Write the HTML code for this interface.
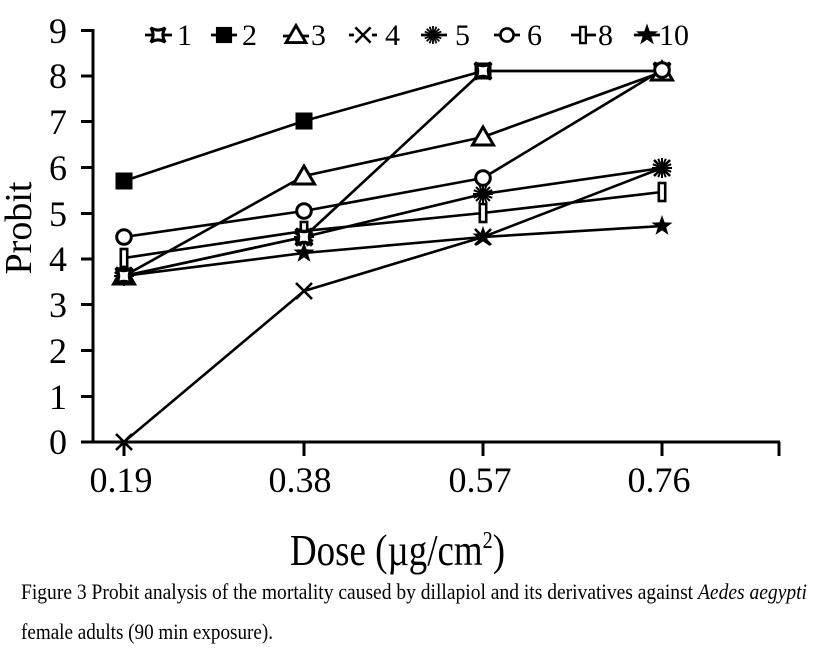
<!DOCTYPE html>
<html>
<head>
<meta charset="utf-8">
<style>
  html,body{margin:0;padding:0;background:#fff;}
  svg{display:block;}
  text{font-family:"Liberation Serif","Times New Roman",serif;fill:#000;}
</style>
</head>
<body>
<svg width="814" height="650" viewBox="0 0 814 650" xmlns="http://www.w3.org/2000/svg">
  <defs>
    <path id="m1" d="M-8,-8 Q0,-3 8,-8 Q3,0 8,8 Q0,3 -8,8 Q-3,0 -8,-8 Z" fill="#fff" stroke="#000" stroke-width="3.4" stroke-linejoin="miter"/>
    <rect id="m2" x="-8.5" y="-8.5" width="17" height="17" fill="#000"/>
    <path id="m3" d="M0,-10 L10.5,8 L-10.5,8 Z" fill="#fff" stroke="#000" stroke-width="3" stroke-linejoin="miter"/>
    <g id="m4" stroke="#000" stroke-width="2.6" fill="none">
      <line x1="-8" y1="-8" x2="8" y2="8"/>
      <line x1="-8" y1="8" x2="8" y2="-8"/>
    </g>
    <g id="m5" stroke="#000" stroke-width="2" fill="none">
      <line x1="-10" y1="0" x2="10" y2="0"/>
      <line x1="0" y1="-10" x2="0" y2="10"/>
      <line x1="-7" y1="-7" x2="7" y2="7"/>
      <line x1="-7" y1="7" x2="7" y2="-7"/>
      <line x1="-9.2" y1="-3.8" x2="9.2" y2="3.8"/>
      <line x1="-9.2" y1="3.8" x2="9.2" y2="-3.8"/>
      <line x1="-3.8" y1="-9.2" x2="3.8" y2="9.2"/>
      <line x1="-3.8" y1="9.2" x2="3.8" y2="-9.2"/>
    </g>
    <circle id="m6" cx="0" cy="0" r="7.3" fill="#fff" stroke="#000" stroke-width="3"/>
    <rect id="m8" x="-3.2" y="-9" width="6.4" height="18" fill="#fff" stroke="#000" stroke-width="2.6"/>
    <path id="m10" d="M0,-11 L2.6,-3.6 L10.5,-3.4 L4.2,1.4 L6.5,8.9 L0,4.4 L-6.5,8.9 L-4.2,1.4 L-10.5,-3.4 L-2.6,-3.6 Z" fill="#000"/>
  </defs>

  <!-- Axes -->
  <g stroke="#000" stroke-width="3" fill="none">
    <line x1="93" y1="29" x2="93" y2="443"/>
    <line x1="92" y1="442" x2="780" y2="442"/>
    <line x1="81" y1="30.5" x2="93" y2="30.5"/>
    <line x1="81" y1="76" x2="93" y2="76"/>
    <line x1="81" y1="121.5" x2="93" y2="121.5"/>
    <line x1="81" y1="167.5" x2="93" y2="167.5"/>
    <line x1="81" y1="213.5" x2="93" y2="213.5"/>
    <line x1="81" y1="259" x2="93" y2="259"/>
    <line x1="81" y1="304.5" x2="93" y2="304.5"/>
    <line x1="81" y1="350.5" x2="93" y2="350.5"/>
    <line x1="81" y1="396.5" x2="93" y2="396.5"/>
    <line x1="81" y1="442" x2="93" y2="442"/>
    <line x1="124" y1="442" x2="124" y2="456"/>
    <line x1="304" y1="442" x2="304" y2="456"/>
    <line x1="483" y1="442" x2="483" y2="456"/>
    <line x1="662" y1="442" x2="662" y2="456"/>
    <line x1="779" y1="442" x2="779" y2="456"/>
  </g>

  <!-- Y tick labels -->
  <g font-size="36" text-anchor="end">
    <text x="67" y="43">9</text>
    <text x="67" y="88">8</text>
    <text x="67" y="134">7</text>
    <text x="67" y="180">6</text>
    <text x="67" y="226">5</text>
    <text x="67" y="271">4</text>
    <text x="67" y="317">3</text>
    <text x="67" y="363">2</text>
    <text x="67" y="409">1</text>
    <text x="67" y="454">0</text>
  </g>

  <!-- X tick labels -->
  <g font-size="36" text-anchor="middle">
    <text x="121" y="492">0.19</text>
    <text x="300" y="492">0.38</text>
    <text x="480" y="492">0.57</text>
    <text x="659" y="492">0.76</text>
  </g>

  <!-- Axis titles -->
  <text transform="translate(31,228) rotate(-90)" font-size="38" text-anchor="middle">Probit</text>
  <text x="290" y="565" font-size="44" textLength="215" lengthAdjust="spacingAndGlyphs">Dose (µg/cm<tspan font-size="24" dy="-17">2</tspan><tspan dy="17">)</tspan></text>

  <!-- Series lines -->
  <g stroke="#000" stroke-width="2.6" fill="none" stroke-linejoin="round">
    <polyline points="124,276 304,237 483,71 662,71"/>
    <polyline points="124,181 304,121 483,71 662,71"/>
    <polyline points="124,276 304,176 483,137 662,72"/>
    <polyline points="124,442 304,291 483,237 662,168"/>
    <polyline points="124,276 304,237 483,194 662,168"/>
    <polyline points="124,237 304,211 483,178 662,70"/>
    <polyline points="124,258 304,231 483,213 662,192"/>
    <polyline points="124,276 304,253 483,237 662,226"/>
  </g>

  <!-- Markers -->
  <g>
    <use href="#m1" x="124" y="276"/><use href="#m1" x="304" y="237"/><use href="#m1" x="483" y="71"/><use href="#m1" x="662" y="71"/>
    <use href="#m2" x="124" y="181"/><use href="#m2" x="304" y="121"/><use href="#m2" x="483" y="71"/><use href="#m2" x="662" y="71"/>
    <use href="#m1" x="483" y="71"/>
    <use href="#m3" x="124" y="276"/><use href="#m3" x="304" y="176"/><use href="#m3" x="483" y="137"/><use href="#m3" x="662" y="72"/>
    <use href="#m4" x="124" y="442"/><use href="#m4" x="304" y="291"/><use href="#m4" x="483" y="237"/><use href="#m4" x="662" y="168"/>
    <use href="#m5" x="124" y="276"/><use href="#m5" x="304" y="237"/><use href="#m5" x="483" y="194"/><use href="#m5" x="662" y="168"/>
    <use href="#m6" x="124" y="237"/><use href="#m6" x="304" y="211"/><use href="#m6" x="483" y="178"/><use href="#m6" x="662" y="70"/>
    <use href="#m8" x="124" y="258"/><use href="#m8" x="304" y="231"/><use href="#m8" x="483" y="213"/><use href="#m8" x="662" y="192"/>
    <use href="#m10" x="124" y="276"/><use href="#m10" x="304" y="253"/><use href="#m10" x="483" y="237"/><use href="#m10" x="662" y="226"/>
    <use href="#m1" x="124" y="276"/><use href="#m1" x="304" y="237"/>
  </g>

  <!-- Legend -->
  <g stroke="#000" stroke-width="2.8">
    <line x1="145" y1="35" x2="172" y2="35"/>
    <line x1="211" y1="35" x2="237" y2="35"/>
    <line x1="283" y1="36" x2="309" y2="36"/>
    <line x1="349" y1="35" x2="354" y2="35"/><line x1="372" y1="35" x2="377" y2="35"/>
    <line x1="421" y1="35" x2="447" y2="35"/>
    <line x1="494" y1="35" x2="520" y2="35"/>
    <line x1="571" y1="35" x2="596" y2="35"/>
    <line x1="634" y1="35" x2="660" y2="35"/>
  </g>
  <use href="#m1" transform="translate(158,35) scale(0.9)"/>
  <use href="#m2" transform="translate(224,35) scale(0.95)"/>
  <use href="#m3" transform="translate(296,35) scale(0.95)"/>
  <use href="#m4" transform="translate(363,35) scale(0.95)"/>
  <use href="#m5" transform="translate(433,35) scale(0.9)"/>
  <use href="#m6" transform="translate(507,35) scale(0.9)"/>
  <use href="#m8" transform="translate(583,35) scale(0.9)"/>
  <use href="#m10" transform="translate(647,35) scale(1.05)"/>
  <g font-size="30">
    <text x="177" y="45">1</text>
    <text x="242" y="45">2</text>
    <text x="311" y="45">3</text>
    <text x="385" y="45">4</text>
    <text x="455" y="45">5</text>
    <text x="527" y="45">6</text>
    <text x="598" y="45">8</text>
    <text x="659" y="45">10</text>
  </g>

  <!-- Caption -->
  <text x="21" y="599" font-size="22" textLength="786" lengthAdjust="spacingAndGlyphs">Figure 3 Probit analysis of the mortality caused by dillapiol and its derivatives against <tspan font-style="italic">Aedes aegypti</tspan></text>
  <text x="21" y="639" font-size="22" textLength="252" lengthAdjust="spacingAndGlyphs">female adults (90 min exposure).</text>
</svg>
</body>
</html>
